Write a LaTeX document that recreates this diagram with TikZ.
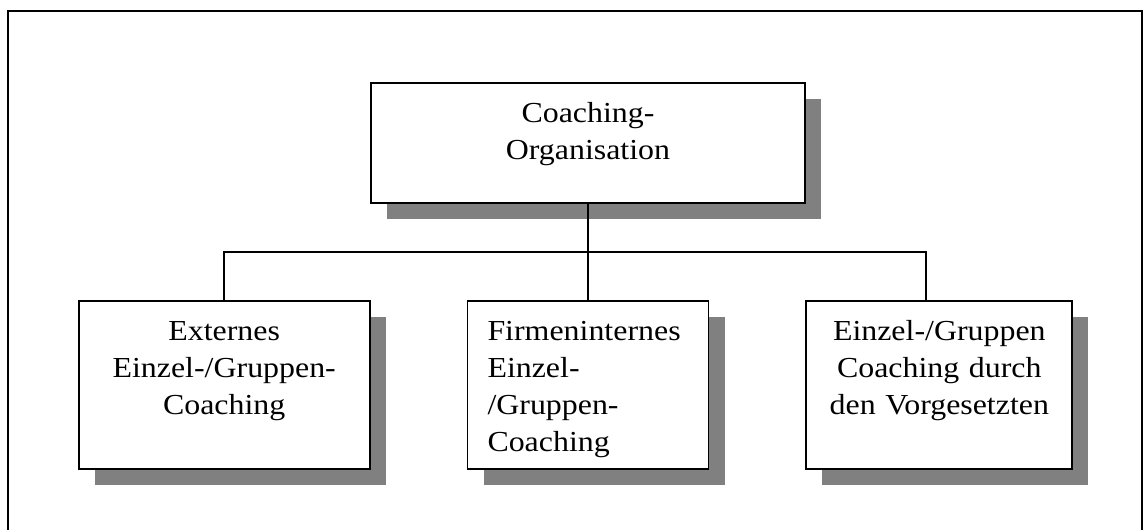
\documentclass[tikz,border=0pt]{standalone}
\usepackage{fontspec}
\setmainfont{Liberation Serif}[FakeStretch=1.1]
\usepackage{tikz}
\usetikzlibrary{positioning,shadows}

\begin{document}
\begin{tikzpicture}[x=0.5pt, y=-0.5pt, node distance=48pt, line width=0.9pt, font=\fontsize{14.5pt}{18.5pt}\selectfont]
				\tikzset{orgbox/.style={draw, fill=white, inner sep=0pt, text height=20pt, align=center, drop shadow={shadow xshift=8pt, shadow yshift=-8pt, fill=black!50, opacity=1}}}
				\tikzstyle{lowbox}=[orgbox, text depth=64pt]

				\useasboundingbox (0,0) rectangle (1143,529);
				\draw (8,11) rectangle (1142,560);

				%KNOTEN
				\node[orgbox, text width=217pt, text depth=40pt]	(torg) at (588,143)	{Coaching-\\Organisation};
				\node[lowbox, text width=100.5pt, inner xsep=10pt, align=left]	(firm) [below=of torg]	{Firmeninternes\\Einzel-\\/Gruppen-\\Coaching};
				\node[lowbox, text width=145.5pt]	(ext) [left=of firm]	{Externes\\Einzel-/Gruppen-\\Coaching};
				\node[lowbox, text width=133pt]	(vorg) [right=of firm]	{Einzel-/Gruppen\\Coaching durch\\den Vorgesetzten};

				%LINIEN
				\coordinate[below=24pt of torg.south] (bus);
				\draw (torg.south) -- (torg.south |- firm.north);
				\draw (ext.north) |- (bus) -| ([xshift=-6.5pt]vorg.north);
\end{tikzpicture}
\end{document}
